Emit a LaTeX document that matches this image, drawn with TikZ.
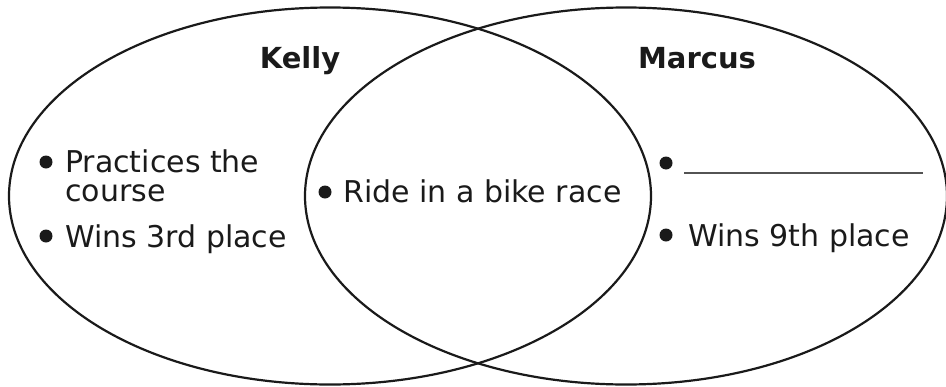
\documentclass[tikz,border=0pt]{standalone}
\usepackage{fontspec}
\setmainfont{DejaVu Sans}
\usetikzlibrary{shapes.geometric}
\definecolor{ink}{HTML}{1A1A1A}
\tikzset{
  setoval/.style={draw=ink, line width=2.2pt, ellipse, inner sep=0pt, minimum width=642pt, minimum height=377pt},
  title/.style={anchor=base, inner sep=0pt, text=ink, font=\bfseries\fontsize{29}{29}\selectfont},
  item/.style={anchor=base west, inner sep=0pt, text=ink, align=left, font=\fontsize{30}{29}\selectfont},
  dot/.style={circle, fill=ink, inner sep=0pt, minimum size=13pt},
  blank/.style={draw=ink!75, line width=1.3pt}
}
\begin{document}
\begin{tikzpicture}[x=1pt,y=-1pt]
\useasboundingbox (0,0) rectangle (946,386);
\node[setoval] (kellyset) at (330,196) {};
\node[setoval] (marcusset) at (626,196) {};
\node[title] (kelly) at (300,68) {Kelly};
\node[title] (marcus) at (697,68) {Marcus};
\node[dot] (d1) at (46,162) {};
\node[item] (t1) at (65,172) {Practices the};
\node[item] (t1b) at (65,201) {course};
\node[dot] (d2) at (46,236) {};
\node[item] (t2) at (65,247) {Wins 3rd place};
\node[dot] (d3) at (325,192) {};
\node[item] (t3) at (343,202) {Ride in a bike race};
\node[dot] (d4) at (666,163) {};
\coordinate (blankstart) at (684,173);
\coordinate (blankend) at (923,173);
\draw[blank] (blankstart) -- (blankend);
\node[dot] (d5) at (666,235) {};
\node[item] (t5) at (688,246) {Wins 9th place};
\end{tikzpicture}
\end{document}
